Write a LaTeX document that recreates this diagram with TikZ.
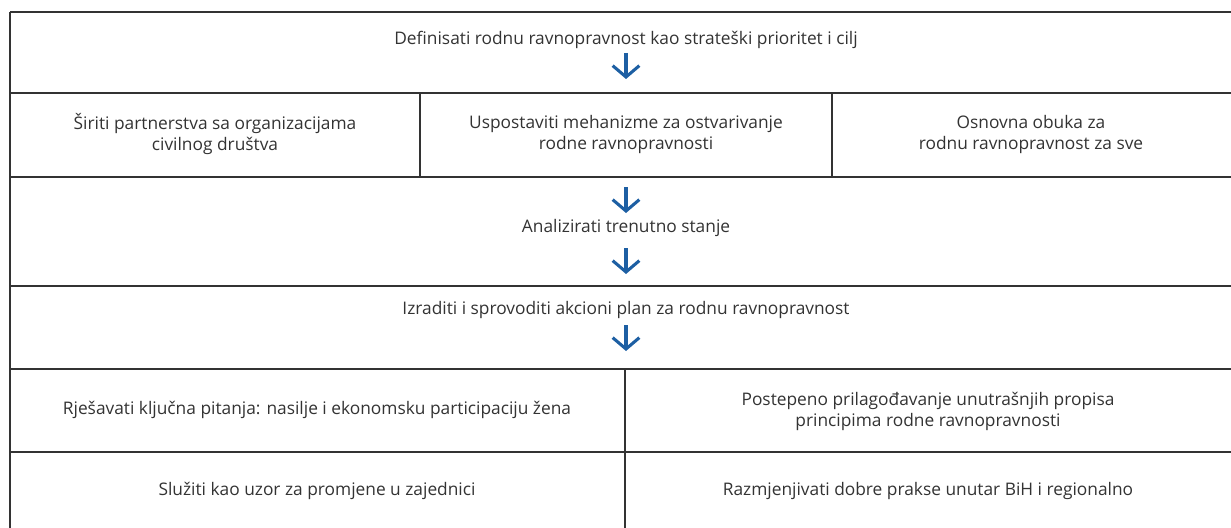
\documentclass[tikz,border=0pt]{standalone}
\usepackage{fontspec}
\setmainfont{Open Sans}
\usetikzlibrary{arrows.meta}
\definecolor{flowblue}{HTML}{1D5FA3}
\definecolor{txtgray}{HTML}{333333}
\tikzset{
  cell/.style={align=center, text=txtgray, inner sep=0pt,
    font=\fontsize{13}{15.75}\selectfont},
  rule/.style={draw=txtgray, line width=0.9pt},
  down/.style={draw=flowblue, line width=2.3pt,
    -{Straight Barb[length=8.5pt,width=20pt]}}
}

\begin{document}
\begin{tikzpicture}[x=0.75pt, y=-0.75pt]
  \useasboundingbox (0,0) rectangle (1231,528);

  % table rules
  \draw[rule] (10,12) -- (10,528);
  \foreach \y in {12,93,177,286,369,452}
    \draw[rule] (10,\y) -- (1231,\y);
  \draw[rule] (420,93) -- (420,177);
  \draw[rule] (832,93) -- (832,177);
  \draw[rule] (625,369) -- (625,528);

  % steps
  \node[cell] (goal) at (626,40) {Definisati rodnu ravnopravnost kao strateški prioritet i cilj};
  \node[cell] (partner) at (215,134) {Širiti partnerstva sa organizacijama\\civilnog društva};
  \node[cell] (mech) at (626,134) {Uspostaviti mehanizme za ostvarivanje\\rodne ravnopravnosti};
  \node[cell] (train) at (1031,134) {Osnovna obuka za\\rodnu ravnopravnost za sve};
  \node[cell] (analyse) at (626,228) {Analizirati trenutno stanje};
  \node[cell] (plan) at (626,310) {Izraditi i sprovoditi akcioni plan za rodnu ravnopravnost};
  \node[cell] (issues) at (317,410) {Rješavati ključna pitanja: nasilje i ekonomsku participaciju žena};
  \node[cell] (rules) at (928,411) {Postepeno prilagođavanje unutrašnjih propisa\\principima rodne ravnopravnosti};
  \node[cell] (model) at (317,491) {Služiti kao uzor za promjene u zajednici};
  \node[cell] (share) at (928,491) {Razmjenjivati dobre prakse unutar BiH i regionalno};

  % arrows
  \foreach \i/\t in {1/53,2/187,3/248,4/325} {
    \coordinate (top\i) at (626,\t);
    \coordinate (tip\i) at (626,\t+26);
    \draw[down] (top\i) -- (tip\i);
  }
\end{tikzpicture}
\end{document}
